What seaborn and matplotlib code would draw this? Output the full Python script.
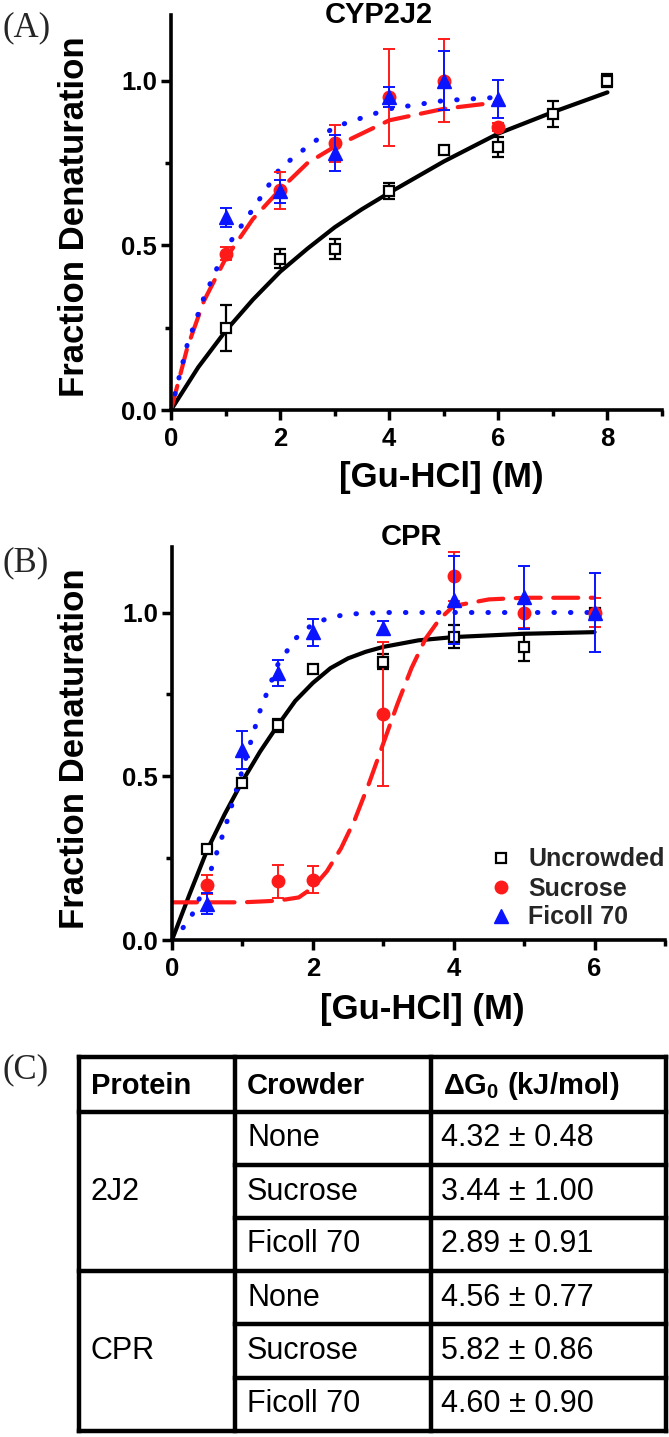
import matplotlib
matplotlib.use('Agg')
import matplotlib.pyplot as plt
import seaborn as sns
from matplotlib.lines import Line2D
from matplotlib.ticker import MultipleLocator

# ---------------- (A) CYP2J2 ----------------
a_x_unc = [1, 2, 3, 4, 5, 6, 7, 8]
a_y_unc = [0.25, 0.46, 0.49, 0.665, 0.79, 0.80, 0.90, 1.00]
a_e_unc = [0.07, 0.03, 0.03, 0.025, 0.013, 0.03, 0.04, 0.02]
a_x_suc = [1, 2, 3, 4, 5, 6]
a_y_suc = [0.475, 0.667, 0.81, 0.95, 1.00, 0.86]
a_e_suc = [0.02, 0.055, 0.057, 0.147, 0.126, 0.013]
a_x_fic = [1, 2, 3, 4, 5, 6]
a_y_fic = [0.585, 0.665, 0.78, 0.95, 1.00, 0.945]
a_e_fic = [0.03, 0.035, 0.055, 0.03, 0.09, 0.057]

# fitted curves
a_fit_unc_x = [0, 0.5, 1, 1.5, 2, 2.5, 3, 3.5, 4, 5, 6, 7, 8]
a_fit_unc_y = [0, 0.13, 0.24, 0.335, 0.42, 0.49, 0.555, 0.61, 0.66, 0.755, 0.84, 0.905, 0.965]
a_fit_suc_x = [0, 0.3, 0.6, 1, 1.5, 2, 2.5, 3, 4, 5, 6]
a_fit_suc_y = [0, 0.19, 0.33, 0.46, 0.58, 0.67, 0.75, 0.80, 0.88, 0.915, 0.935]
a_fit_fic_x = [0, 0.3, 0.6, 1, 1.5, 2, 2.5, 3, 4, 5, 6]
a_fit_fic_y = [0, 0.20, 0.34, 0.49, 0.61, 0.735, 0.80, 0.86, 0.915, 0.94, 0.95]

# ---------------- (B) CPR ----------------
b_x_unc = [0.5, 1, 1.5, 2, 3, 4, 5, 6]
b_y_unc = [0.278, 0.48, 0.655, 0.828, 0.85, 0.926, 0.894, 1.0]
b_e_unc = [0.01, 0.012, 0.02, 0.008, 0.023, 0.035, 0.043, 0.01]
b_x_suc = [0.5, 1.5, 2, 3, 4, 5, 6]
b_y_suc = [0.169, 0.179, 0.184, 0.689, 1.11, 0.997, 1.0]
b_e_suc = [0.028, 0.05, 0.042, 0.22, 0.076, 0.043, 0.045]
b_x_fic = [0.5, 1, 1.5, 2, 3, 4, 5, 6]
b_y_fic = [0.111, 0.58, 0.815, 0.94, 0.952, 1.037, 1.046, 1.0]
b_e_fic = [0.033, 0.058, 0.04, 0.041, 0.022, 0.134, 0.095, 0.121]

b_fit_unc_x = [0, 0.25, 0.5, 0.75, 1, 1.25, 1.5, 1.75, 2, 2.25, 2.5, 2.75, 3, 3.5, 4, 5, 6]
b_fit_unc_y = [0, 0.14, 0.275, 0.385, 0.485, 0.575, 0.655, 0.73, 0.785, 0.83, 0.86, 0.88, 0.895, 0.915, 0.925, 0.935, 0.94]
b_fit_suc_x = [0, 0.5, 1, 1.5, 1.8, 2, 2.2, 2.4, 2.6, 2.8, 3, 3.2, 3.4, 3.6, 3.8, 4, 4.5, 5, 6]
b_fit_suc_y = [0.115, 0.115, 0.115, 0.12, 0.13, 0.16, 0.21, 0.28, 0.37, 0.48, 0.60, 0.72, 0.83, 0.92, 0.98, 1.02, 1.04, 1.045, 1.045]
b_fit_fic_x = [0, 0.25, 0.5, 0.75, 1, 1.25, 1.5, 1.75, 2, 2.25, 2.5, 3, 4, 5, 6]
b_fit_fic_y = [0, 0.06, 0.18, 0.34, 0.52, 0.70, 0.84, 0.92, 0.965, 0.985, 0.995, 1.0, 1.0, 1.0, 1.0]

legend_labels = ['Uncrowded', 'Sucrose', 'Ficoll 70']

# ---------------- (C) table ----------------
table_header = ['Protein', 'Crowder', r'$\Delta$G$_{\mathbf{0}}$ (kJ/mol)']
proteins = ['2J2', 'CPR']
crowders = ['None', 'Sucrose', 'Ficoll 70']
dg_mean = [4.32, 3.44, 2.89, 4.56, 5.82, 4.60]
dg_err = [0.48, 1.00, 0.91, 0.77, 0.86, 0.90]

sns.set_theme(style='ticks')
plt.rcParams['font.family'] = ['Liberation Sans', 'DejaVu Sans']
plt.rcParams['mathtext.fontset'] = 'custom'
plt.rcParams['mathtext.rm'] = 'Liberation Sans:bold'
plt.rcParams['mathtext.bf'] = 'Liberation Sans:bold'

W, H = 669, 1437
fig = plt.figure(figsize=(W / 100, H / 100), dpi=100)


def fx(px):
    return px / W


def fy(py):
    return 1 - py / H


RED = '#ff1a1a'
BLUE = '#0a14ff'


def draw_panel(ax, data, fits, xmax):
    styles = [('-', 'black', 3), ((0, (6, 3)), RED, 3), ((0, (0.1, 3.2)), BLUE, 3.6)]
    for (cx, cy), (ls, col, lw) in zip(fits, styles):
        sns.lineplot(x=cx, y=cy, ax=ax, color=col, lw=lw, linestyle=ls,
                     sort=False, estimator=None, zorder=2)
    for l in ax.lines:
        l.set_dash_capstyle('round')
    (xu, yu, eu), (xs, ys, es), (xf, yf, ef) = data
    ax.errorbar(xu, yu, yerr=eu, fmt='s', ms=7, mfc='white', mec='black', mew=1.6,
                ecolor='black', elinewidth=1.6, capsize=4.5, capthick=1.6, zorder=4)
    ax.errorbar(xs, ys, yerr=es, fmt='o', ms=9, color=RED, mec=RED,
                ecolor=RED, elinewidth=1.4, capsize=4.5, capthick=1.4, zorder=4)
    ax.errorbar(xf, yf, yerr=ef, fmt='^', ms=10, color=BLUE, mec=BLUE,
                ecolor=BLUE, elinewidth=1.4, capsize=4.5, capthick=1.4, zorder=5)

    ax.set_xlim(0, xmax)
    ax.set_ylim(0, 1.2)
    ax.set_xticks(list(range(0, xmax, 2)))
    ax.xaxis.set_minor_locator(MultipleLocator(1))
    ax.set_yticks([0, 0.5, 1.0])
    ax.set_yticklabels(['0.0', '0.5', '1.0'])
    ax.yaxis.set_minor_locator(MultipleLocator(0.25))
    ax.tick_params(which='major', direction='out', length=7, width=2.5,
                   labelsize=18.5, color='black', labelcolor='black')
    ax.tick_params(axis='x', which='major', pad=5)
    ax.tick_params(axis='y', which='major', pad=3)
    ax.tick_params(which='minor', direction='out', length=4, width=2.5, color='black')
    for lab in ax.get_xticklabels() + ax.get_yticklabels():
        lab.set_fontweight('bold')
    for s in ['top', 'right']:
        ax.spines[s].set_visible(False)
    for s in ['left', 'bottom']:
        ax.spines[s].set_linewidth(2.6)
        ax.spines[s].set_color('black')
    ax.set_xlabel('')
    ax.set_ylabel('')
    ax.set_facecolor('white')


axA = fig.add_axes([fx(171), fy(410), (662 - 171) / W, (410 - 15) / H])
draw_panel(axA,
           [(a_x_unc, a_y_unc, a_e_unc), (a_x_suc, a_y_suc, a_e_suc), (a_x_fic, a_y_fic, a_e_fic)],
           [(a_fit_unc_x, a_fit_unc_y), (a_fit_suc_x, a_fit_suc_y), (a_fit_fic_x, a_fit_fic_y)],
           9)

axB = fig.add_axes([fx(172), fy(940), (665 - 172) / W, (940 - 547) / H])
draw_panel(axB,
           [(b_x_unc, b_y_unc, b_e_unc), (b_x_suc, b_y_suc, b_e_suc), (b_x_fic, b_y_fic, b_e_fic)],
           [(b_fit_unc_x, b_fit_unc_y), (b_fit_suc_x, b_fit_suc_y), (b_fit_fic_x, b_fit_fic_y)],
           7)

# legend in panel B (markers only)
handles = [
    Line2D([], [], ls='none', marker='s', ms=7, mfc='white', mec='black', mew=1.6),
    Line2D([], [], ls='none', marker='o', ms=9, color=RED),
    Line2D([], [], ls='none', marker='^', ms=10, color=BLUE),
]
leg = fig.legend(handles, legend_labels, loc='upper left',
                 bbox_to_anchor=(fx(476), fy(835)), bbox_transform=fig.transFigure,
                 frameon=False, borderpad=0, handlelength=1.0, handletextpad=0.6,
                 labelspacing=0.2, prop={'size': 18, 'weight': 'bold'})

# titles and axis labels
bold = dict(fontweight='bold', color='black')
fig.text(fx(379), fy(15), 'CYP2J2', ha='center', va='center', fontsize=21, **bold)
fig.text(fx(411), fy(537), 'CPR', ha='center', va='center', fontsize=21, **bold)
fig.text(fx(75), fy(217), 'Fraction Denaturation', rotation=90, ha='center', va='center',
         fontsize=25, **bold)
fig.text(fx(75), fy(749), 'Fraction Denaturation', rotation=90, ha='center', va='center',
         fontsize=25, **bold)
fig.text(fx(441), fy(477), '[Gu-HCl] (M)', ha='center', va='center', fontsize=25, **bold)
fig.text(fx(422), fy(1010), '[Gu-HCl] (M)', ha='center', va='center', fontsize=25, **bold)

serif = ['Liberation Serif', 'DejaVu Serif']
for lab, y in [('(A)', 28), ('(B)', 563), ('(C)', 1070)]:
    fig.text(fx(3), fy(y), lab, ha='left', va='center', fontsize=25, family=serif)

# table (C) drawn on a full-figure overlay in pixel units
axT = fig.add_axes([0, 0, 1, 1], zorder=-1)
axT.set_xlim(0, W)
axT.set_ylim(H, 0)
axT.axis('off')

col_x = [79, 235, 431, 666]
row_y = [1057, 1112, 1165, 1218, 1271, 1324, 1378, 1431]
kw = dict(color='black', lw=3.2, solid_capstyle='projecting')
for x in col_x:
    axT.plot([x, x], [row_y[0], row_y[-1]], **kw)
for i, y in enumerate(row_y):
    if i in (0, 1, 4, 7):
        axT.plot([col_x[0], col_x[-1]], [y, y], **kw)
    else:
        axT.plot([col_x[1], col_x[-1]], [y, y], **kw)

for j, txt in enumerate(table_header):
    axT.text(col_x[j] + 12, (row_y[0] + row_y[1]) / 2 + 2, txt, ha='left', va='center',
             fontsize=21, fontweight='bold', color='black')

for g, prot in enumerate(proteins):
    y0 = row_y[1 + 3 * g]
    y1 = row_y[4 + 3 * g]
    axT.text(col_x[0] + 12, (y0 + y1) / 2, prot, ha='left', va='center',
             fontsize=22, color='black')
    for k, crow in enumerate(crowders):
        r = 3 * g + k
        yc = (row_y[1 + r] + row_y[2 + r]) / 2
        axT.text(col_x[1] + 12, yc, crow, ha='left', va='center', fontsize=22, color='black')
        axT.text(col_x[2] + 10, yc, f'{dg_mean[r]:.2f} \u00b1 {dg_err[r]:.2f}',
                 ha='left', va='center', fontsize=22, color='black')

fig.savefig('out.png', dpi=100, facecolor='white')
